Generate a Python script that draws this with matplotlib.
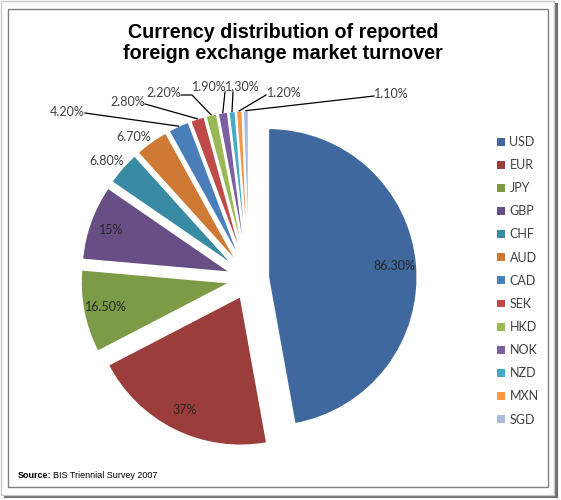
import matplotlib.pyplot as plt
import matplotlib.patches as mpatches
import numpy as np

currencies = ['USD', 'EUR', 'JPY', 'GBP', 'CHF', 'AUD', 'CAD', 'SEK', 'HKD',
              'NOK', 'NZD', 'MXN', 'SGD']
shares = [86.3, 37.0, 16.5, 15.0, 6.8, 6.7, 4.2, 2.8, 2.2, 1.9, 1.3, 1.2, 1.1]
labels = ['86.30%', '37%', '16.50%', '15%', '6.80%', '6.70%', '4.20%',
          '2.80%', '2.20%', '1.90%', '1.30%', '1.20%', '1.10%']
colors = ['#3F689E', '#9B3D3A', '#7D9A47', '#674F85', '#398BA3', '#CE7A35',
          '#4A7EBB', '#BE4B48', '#98B954', '#7D60A0', '#46AAC5', '#F79646',
          '#A8BCDA']

W, H = 561, 500
fig = plt.figure(figsize=(W / 100, H / 100), dpi=100)
ax = fig.add_axes([0, 0, 1, 1])


def Y(y):
    # pixel row (from top) -> data y
    return H - y


# frame with shadow
ax.add_patch(mpatches.Rectangle((4, Y(498)), 554, 495, facecolor='#6e6e6e',
                                edgecolor='none', zorder=0))
ax.add_patch(mpatches.Rectangle((1, Y(495)), 553, 494, facecolor='white',
                                edgecolor='#c8c8c8', lw=1, zorder=0.5))
ax.add_patch(mpatches.Rectangle((8, Y(487)), 540, 478, facecolor='white',
                                edgecolor='#808080', lw=1, zorder=0.6))

cx, cy, r = 249, Y(279), 149
# explode is in data units here (radius is in pixels)
wedges, _ = ax.pie(shares, colors=colors, startangle=90, counterclock=False,
                   explode=[0.13 * r] * len(shares), radius=r,
                   center=(cx, cy),
                   wedgeprops=dict(edgecolor='white', linewidth=1.2))

font = ['Lato', 'DejaVu Sans']

# labels inside the big slices
for w, lab in zip(wedges[:4], labels[:4]):
    a = np.deg2rad((w.theta1 + w.theta2) / 2)
    x0, y0 = w.center
    ax.text(x0 + 0.85 * r * np.cos(a), y0 + 0.85 * r * np.sin(a), lab,
            ha='center', va='center', fontsize=9, color='#262626',
            family=font, zorder=5)

# outside labels with leader lines (text position / line start in pixels)
outside = {
    4: (107, 161, []),
    5: (134, 137, []),
    6: (67, 112, [(85, 113)]),
    7: (128, 102, [(145, 104)]),
    8: (164, 93, [(181, 95), (192, 95)]),
    9: (209, 87, [(225, 92)]),
    10: (242, 87, [(233, 92)]),
    11: (284, 93, [(266, 95)]),
    12: (391, 94, [(374, 96)]),
}
for i, (tx, ty, pts) in outside.items():
    w = wedges[i]
    ax.text(tx, Y(ty), labels[i], ha='center', va='center', fontsize=9,
            color='#404040', family=font, zorder=5)
    if pts:
        a = np.deg2rad((w.theta1 + w.theta2) / 2)
        x0, y0 = w.center
        ex, ey = x0 + r * np.cos(a), y0 + r * np.sin(a)
        xs = [p[0] for p in pts] + [ex]
        ys = [Y(p[1]) for p in pts] + [ey]
        ax.plot(xs, ys, color='black', lw=0.9, zorder=4)

# legend
leg = ax.legend(wedges, currencies, loc='upper left',
                bbox_to_anchor=(492 / W, 1 - 131 / H), frameon=False,
                prop={'family': font, 'size': 9}, handlelength=0.6,
                handleheight=0.6, handletextpad=0.4, labelspacing=0.89,
                borderaxespad=0)
for t in leg.get_texts():
    t.set_color('#404040')
for h in leg.legend_handles:
    h.set_edgecolor('none')

ax.text(283, Y(43), 'Currency distribution of reported\n'
        'foreign exchange market turnover', ha='center', va='center',
        fontsize=14.2, fontweight='bold', family='Liberation Sans',
        linespacing=1.15, zorder=5)

ax.text(18, Y(475), 'Source:', ha='left', va='center', fontsize=6.5,
        fontweight='bold', family='Liberation Sans', zorder=5)
ax.text(53, Y(475), 'BIS Triennial Survey 2007', ha='left', va='center',
        fontsize=6.5, family='Liberation Sans', zorder=5)

ax.set_xlim(0, W)
ax.set_ylim(0, H)
ax.set_aspect('equal')
ax.axis('off')

fig.savefig('out.png', dpi=100)
